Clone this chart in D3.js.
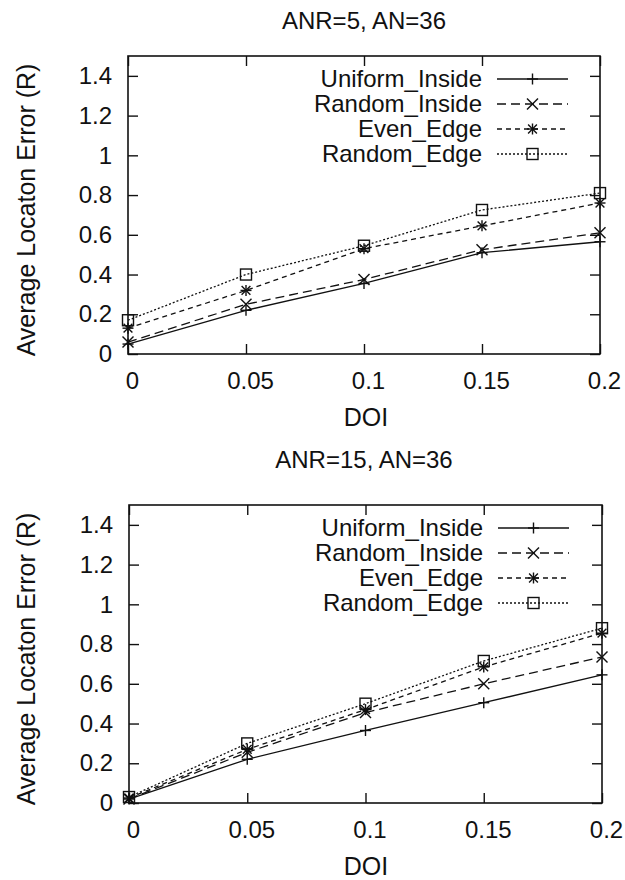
<!DOCTYPE html>
<html>
<head>
<meta charset="utf-8">
<script src="https://cdn.jsdelivr.net/npm/d3@7/dist/d3.min.js"></script>
<style>
  html, body { margin: 0; padding: 0; background: #fff; }
  svg { display: block; }
  text { font-family: "Liberation Sans", Arial, Helvetica, sans-serif; fill: #111; }
</style>
</head>
<body>
<svg id="chart" width="625" height="880"></svg>
<script>
// ---- data ----
const doi = [0, 0.05, 0.1, 0.15, 0.2];
const xTickLabels = ["0", "0.05", "0.1", "0.15", "0.2"];
const yTicks = [0, 0.2, 0.4, 0.6, 0.8, 1, 1.2, 1.4];
const yTickLabels = ["0", "0.2", "0.4", "0.6", "0.8", "1", "1.2", "1.4"];
const seriesNames = ["Uniform_Inside", "Random_Inside", "Even_Edge", "Random_Edge"];
const panelTitles = ["ANR=5, AN=36", "ANR=15, AN=36"];
const xLabel = "DOI";
const yLabel = "Average Locaton Error (R)";

// ANR=5
const anr5_uniformInside = [0.05, 0.22, 0.355, 0.51, 0.565];
const anr5_randomInside  = [0.06, 0.25, 0.375, 0.525, 0.61];
const anr5_evenEdge      = [0.13, 0.32, 0.53, 0.645, 0.76];
const anr5_randomEdge    = [0.17, 0.40, 0.545, 0.725, 0.81];
// ANR=15
const anr15_uniformInside = [0.02, 0.22, 0.365, 0.505, 0.645];
const anr15_randomInside  = [0.02, 0.255, 0.455, 0.60, 0.735];
const anr15_evenEdge      = [0.025, 0.27, 0.47, 0.685, 0.855];
const anr15_randomEdge    = [0.03, 0.30, 0.50, 0.715, 0.88];

const panelData = [
  [anr5_uniformInside, anr5_randomInside, anr5_evenEdge, anr5_randomEdge],
  [anr15_uniformInside, anr15_randomInside, anr15_evenEdge, anr15_randomEdge]
];

// ---- styles ----
const dashes = [null, "9,5", "5,4", "2,2"];
const markerTypes = ["plus", "cross", "star", "square"];
const stroke = "#111";

const svg = d3.select("#chart");

function drawMarker(g, type, cx, cy) {
  const s = 5.5;
  const m = g.append("g").attr("transform", `translate(${cx},${cy})`)
    .attr("stroke", stroke).attr("stroke-width", 1.4).attr("fill", "none");
  if (type === "plus" || type === "star") {
    m.append("line").attr("x1", -s).attr("x2", s).attr("y1", 0).attr("y2", 0);
    m.append("line").attr("x1", 0).attr("x2", 0).attr("y1", -s).attr("y2", s);
  }
  if (type === "cross" || type === "star") {
    const t = type === "star" ? s * 0.8 : s;
    m.append("line").attr("x1", -t).attr("x2", t).attr("y1", -t).attr("y2", t);
    m.append("line").attr("x1", -t).attr("x2", t).attr("y1", t).attr("y2", -t);
  }
  if (type === "square") {
    m.append("rect").attr("x", -s).attr("y", -s).attr("width", 2 * s).attr("height", 2 * s)
      .attr("fill", "#fff").attr("fill-opacity", 0);
  }
}

function drawPanel(cfg) {
  const { left, right, top, bottom, titleY, title, data } = cfg;
  const x = d3.scaleLinear().domain([0, 0.2]).range([left, right]);
  const y = d3.scaleLinear().domain([0, 1.5]).range([bottom, top]);
  const g = svg.append("g");

  // title
  g.append("text").attr("x", 364).attr("y", titleY).attr("text-anchor", "middle")
    .attr("font-size", 24).text(title);

  // axes (gnuplot-style inward ticks, mirrored)
  const ax = g.append("g").attr("transform", `translate(0,${bottom})`)
    .call(d3.axisBottom(x).tickValues(doi).tickSizeInner(-10).tickSizeOuter(0)
      .tickPadding(18).tickFormat((d, i) => xTickLabels[i]));
  ax.selectAll("text").attr("font-size", 24).attr("dx", 4).attr("fill", "#111")
    .attr("font-family", "Liberation Sans, Arial, sans-serif");
  const axT = g.append("g").attr("transform", `translate(0,${top})`)
    .call(d3.axisTop(x).tickValues(doi).tickSizeInner(-10).tickSizeOuter(0).tickFormat(""));
  const ay = g.append("g").attr("transform", `translate(${left},0)`)
    .call(d3.axisLeft(y).tickValues(yTicks).tickSizeInner(-10).tickSizeOuter(0)
      .tickPadding(16).tickFormat((d, i) => yTickLabels[i]));
  ay.selectAll("text").attr("font-size", 24).attr("fill", "#111")
    .attr("font-family", "Liberation Sans, Arial, sans-serif");
  const ayR = g.append("g").attr("transform", `translate(${right},0)`)
    .call(d3.axisRight(y).tickValues(yTicks).tickSizeInner(-10).tickSizeOuter(0).tickFormat(""));
  [ax, axT, ay, ayR].forEach(a => {
    a.select(".domain").remove();
    a.selectAll(".tick line").attr("stroke", stroke).attr("stroke-width", 1.4);
  });

  // frame
  g.append("rect").attr("x", left).attr("y", top).attr("width", right - left)
    .attr("height", bottom - top).attr("fill", "none").attr("stroke", stroke).attr("stroke-width", 1.6);

  // axis labels
  g.append("text").attr("x", 366).attr("y", bottom + 72).attr("text-anchor", "middle")
    .attr("font-size", 25).text(xLabel);
  g.append("text").attr("transform", `translate(35,${(top + bottom) / 2 + 5}) rotate(-90)`)
    .attr("text-anchor", "middle").attr("font-size", 25).text(yLabel);

  // series
  const line = d3.line().x((d, i) => x(doi[i])).y(d => y(d));
  data.forEach((vals, si) => {
    g.append("path").datum(vals).attr("d", line).attr("fill", "none")
      .attr("stroke", stroke).attr("stroke-width", 1.3)
      .attr("stroke-dasharray", dashes[si]);
    vals.forEach((v, i) => drawMarker(g, markerTypes[si], x(doi[i]), y(v)));
  });

  // legend
  const legTextX = left + 354, sx1 = left + 369, sx2 = left + 440;
  seriesNames.forEach((name, si) => {
    const ly = top + 23 + si * 25;
    g.append("text").attr("x", legTextX).attr("y", ly).attr("dy", "0.35em")
      .attr("text-anchor", "end").attr("font-size", 24).text(name);
    g.append("line").attr("x1", sx1).attr("x2", sx2).attr("y1", ly).attr("y2", ly)
      .attr("stroke", stroke).attr("stroke-width", 1.3).attr("stroke-dasharray", dashes[si]);
    drawMarker(g, markerTypes[si], (sx1 + sx2) / 2, ly);
  });
}

drawPanel({ left: 128, right: 600, top: 56, bottom: 354, titleY: 29, title: panelTitles[0], data: panelData[0] });
drawPanel({ left: 129, right: 602, top: 505, bottom: 803, titleY: 468, title: panelTitles[1], data: panelData[1] });
</script>
</body>
</html>
